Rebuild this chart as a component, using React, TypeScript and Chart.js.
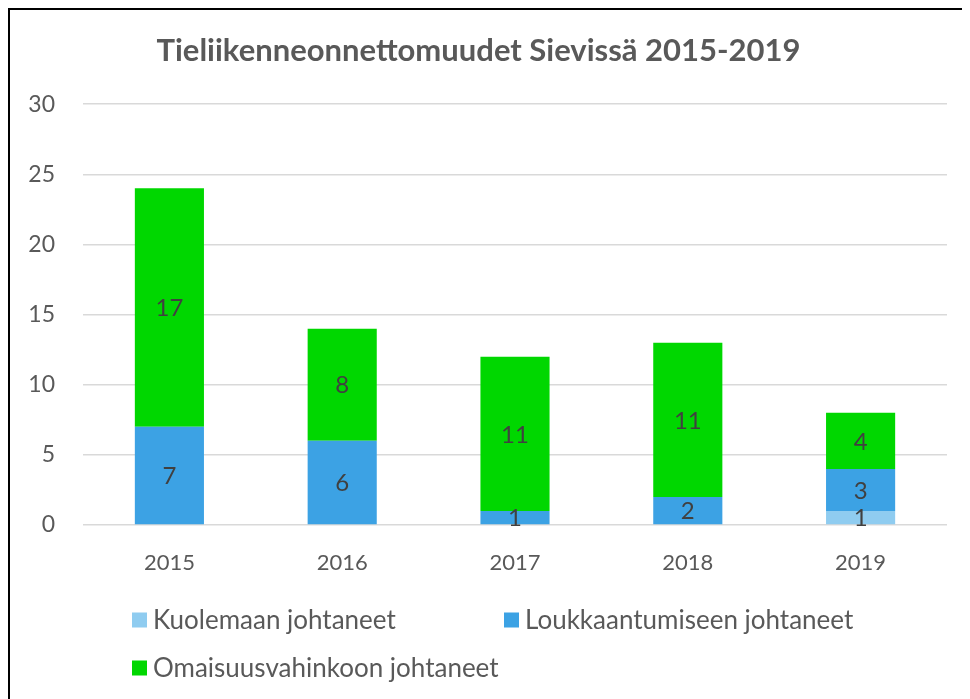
import React, { useEffect, useRef } from "react";
import { Chart, registerables } from "chart.js";

Chart.register(...registerables);

const TITLE = "Tieliikenneonnettomuudet Sievissä 2015-2019";
const YEARS = ["2015", "2016", "2017", "2018", "2019"];
const SERIES_NAMES = [
  "Kuolemaan johtaneet",
  "Loukkaantumiseen johtaneet",
  "Omaisuusvahinkoon johtaneet",
];
const KUOLEMAAN = [0, 0, 0, 0, 1];
const LOUKKAANTUMISEEN = [7, 6, 1, 2, 3];
const OMAISUUS = [17, 8, 11, 11, 4];
const COLORS = ["#8FCCF0", "#3CA2E4", "#00D700"];
const Y_MAX = 30;
const Y_STEP = 5;

const FONT = "Lato, 'Open Sans', sans-serif";
const TEXT_COLOR = "#595959";

const dataLabelPlugin = {
  id: "dataLabels",
  afterDatasetsDraw(chart: any) {
    const ctx = chart.ctx;
    ctx.save();
    ctx.font = `24px ${FONT}`;
    ctx.fillStyle = "#404040";
    ctx.textAlign = "center";
    ctx.textBaseline = "middle";
    chart.data.datasets.forEach((ds: any, di: number) => {
      const meta = chart.getDatasetMeta(di);
      meta.data.forEach((el: any, i: number) => {
        const v = ds.data[i];
        if (!v) return;
        const yMid = (el.y + el.base) / 2;
        ctx.fillText(String(v), el.x, yMid + 1);
      });
    });
    ctx.restore();
  },
};

const customLegendPlugin = {
  id: "customLegend",
  afterDraw(chart: any) {
    const ctx = chart.ctx;
    const area = chart.chartArea;
    const startX = area.left + 49;
    const colW = 372;
    const row1 = area.bottom + 95;
    const rowGap = 48;
    const box = 15;
    ctx.save();
    ctx.font = `26px ${FONT}`;
    ctx.textAlign = "left";
    ctx.textBaseline = "middle";
    chart.data.datasets.forEach((ds: any, i: number) => {
      const col = i % 2;
      const row = Math.floor(i / 2);
      const x = startX + col * colW;
      const y = row1 + row * rowGap;
      ctx.fillStyle = ds.backgroundColor;
      ctx.fillRect(x, y - box / 2, box, box);
      ctx.fillStyle = TEXT_COLOR;
      ctx.fillText(ds.label, x + box + 6, y + 1);
    });
    ctx.restore();
  },
};

export default function App() {
  const ref = useRef<HTMLCanvasElement | null>(null);

  useEffect(() => {
    if (!ref.current) return;
    Chart.defaults.font.family = FONT;
    const chart = new Chart(ref.current, {
      type: "bar",
      data: {
        labels: YEARS,
        datasets: [
          { label: SERIES_NAMES[0], data: KUOLEMAAN, backgroundColor: COLORS[0] },
          { label: SERIES_NAMES[1], data: LOUKKAANTUMISEEN, backgroundColor: COLORS[1] },
          { label: SERIES_NAMES[2], data: OMAISUUS, backgroundColor: COLORS[2] },
        ],
      },
      options: {
        animation: false,
        responsive: false,
        maintainAspectRatio: false,
        datasets: {
          bar: { barPercentage: 0.4, categoryPercentage: 1.0 },
        },
        layout: { padding: { left: 0, right: 23, top: 0, bottom: 122 } },
        plugins: {
          legend: { display: false },
          tooltip: { enabled: false },
          title: {
            display: true,
            text: TITLE,
            color: TEXT_COLOR,
            font: { size: 31, weight: "bold", family: FONT },
            padding: { top: 22, bottom: 35 },
          },
        },
        scales: {
          x: {
            stacked: true,
            grid: { display: false, drawTicks: false },
            border: { display: false },
            ticks: { color: TEXT_COLOR, font: { size: 22 }, padding: 25 },
            afterFit: (s: any) => {
              s.height = 52;
            },
          },
          y: {
            stacked: true,
            min: 0,
            max: Y_MAX,
            ticks: { stepSize: Y_STEP, color: TEXT_COLOR, font: { size: 23 }, padding: 28 },
            grid: { color: "#d9d9d9", lineWidth: 1.5, drawTicks: false },
            border: { display: false },
            afterFit: (s: any) => {
              s.width = 73;
            },
          },
        },
      },
      plugins: [dataLabelPlugin, customLegendPlugin],
    });
    return () => chart.destroy();
  }, []);

  return (
    <div
      style={{
        width: 960,
        height: 689,
        borderLeft: "2px solid #000",
        borderTop: "2px solid #000",
        background: "#fff",
        overflow: "hidden",
      }}
    >
      <canvas ref={ref} width={960} height={689} style={{ display: "block" }} />
    </div>
  );
}
